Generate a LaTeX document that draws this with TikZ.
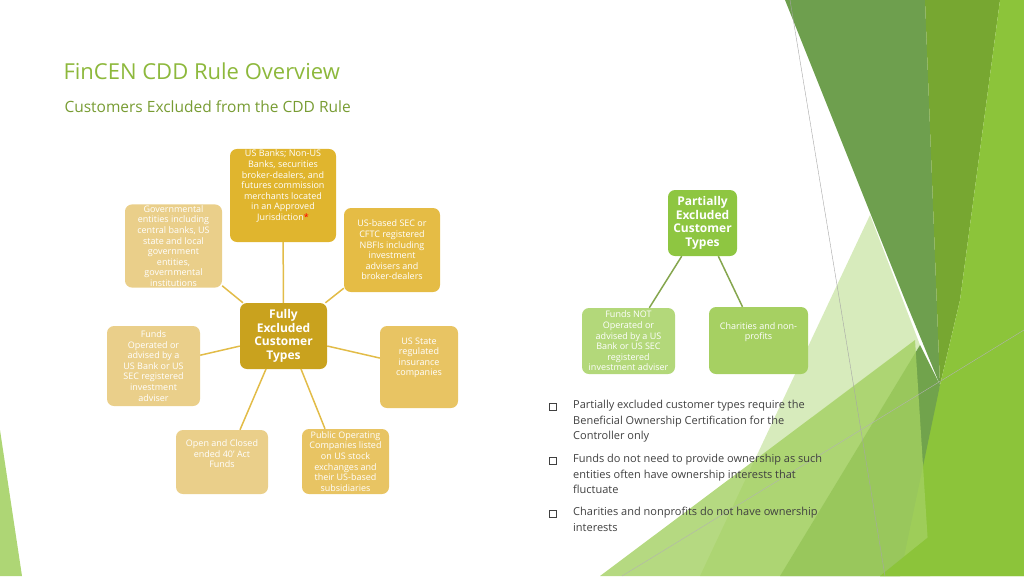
\documentclass[tikz,border=0pt]{standalone}
\usepackage{fontspec}
\setmainfont{Open Sans}
\definecolor{ttl}{HTML}{8DB83C}
\definecolor{gd}{HTML}{C9A21E}
\definecolor{g1}{HTML}{E0B52E}
\definecolor{g2}{HTML}{EACF8A}
\definecolor{g3}{HTML}{E5BC45}
\definecolor{g4}{HTML}{E8C463}
\definecolor{gl}{HTML}{E2BC48}
\definecolor{pg}{HTML}{8EC641}
\definecolor{pg2}{HTML}{B3D87A}
\definecolor{pg3}{HTML}{A6D062}
\definecolor{dg}{HTML}{6E9F4E}
\definecolor{bg}{HTML}{8CC43A}
\definecolor{txt}{HTML}{404040}
\begin{document}
\begin{tikzpicture}[x=1pt,y=-1pt,
 bx/.style={rounded corners=7pt,fill=#1,text=white,align=center,font=\fontsize{9}{10.6}\selectfont,inner sep=1pt},
 hub/.style={rounded corners=7pt,fill=#1,text=white,align=center,font=\bfseries\fontsize{12}{13.5}\selectfont},
 ln/.style={draw=gl,line width=1.5pt},
 pln/.style={draw=pg3!80!black,line width=1.5pt}]
\useasboundingbox (0,0) rectangle (1024,576);
% background decoration
\fill[bg!70!white] (0,430) -- (0,576) -- (22,576) -- cycle;
\fill[dg] (785,0) -- (925,0) -- (940,385) -- (905,300) -- cycle;
\fill[bg!85!black] (925,0) -- (1000,0) -- (960,300) -- (940,385) -- cycle;
\fill[bg] (1000,0) -- (1024,0) -- (1024,576) -- (880,576) -- (940,385) -- (960,300) -- cycle;
\fill[pg!35!white] (870,215) -- (920,345) -- (780,576) -- (700,576) -- cycle;
\fill[dg!90!bg] (920,345) -- (940,385) -- (900,576) -- (780,576) -- cycle;
\fill[bg!80!white,opacity=0.8] (600,576) -- (915,340) -- (930,576) -- cycle;
\fill[bg] (880,576) -- (1024,460) -- (1024,576) -- cycle;
\draw[gray!70,line width=0.4pt] (790,0) -- (885,576);
\draw[gray!60,line width=0.4pt] (622,576) -- (1024,330);
% titles
\node[anchor=west,text=ttl,font=\fontsize{22}{26}\selectfont] (title) at (60,71) {FinCEN CDD Rule Overview};
\node[anchor=west,text=ttl!85!black,font=\fontsize{15.5}{18}\selectfont] (sub) at (61,107) {Customers Excluded from the CDD Rule};
% fully excluded
\node[hub=gd,minimum width=87pt,minimum height=66pt] (c) at (283.5,336) {Fully\\Excluded\\Customer\\Types};
\node[bx=g1,minimum width=106pt,minimum height=91pt] (t) at (283,195.5) {US Banks; Non-US\\Banks, securities\\broker-dealers, and\\futures commission\\merchants located\\in an Approved\\Jurisdiction{\color{red}*}\\[10pt]};
\node[bx=g2,minimum width=97pt,minimum height=83pt] (gov) at (173.5,246) {Governmental\\entities including\\central banks, US\\state and local\\government\\entities,\\governmental\\institutions};
\node[bx=g3,minimum width=96pt,minimum height=84pt] (sec) at (392,250) {US-based SEC or\\CFTC registered\\NBFIs including\\investment\\advisers and\\broker-dealers};
\node[bx=g2,minimum width=93pt,minimum height=80pt] (fl) at (153.5,366) {Funds\\Operated or\\advised by a\\US Bank or US\\SEC registered\\investment\\adviser};
\node[bx=g4,minimum width=78pt,minimum height=82pt] (st) at (419,367) {US State\\regulated\\insurance\\companies\\[10pt]};
\node[bx=g2,minimum width=92pt,minimum height=64pt] (oc) at (222,462) {Open and Closed\\ended 40' Act\\Funds\\[6pt]};
\node[bx=g4,minimum width=87pt,minimum height=65pt] (pub) at (345.5,461.5) {Public Operating\\Companies listed\\on US stock\\exchanges and\\their US-based\\subsidiaries};
\coordinate (c1) at (266,369);
\coordinate (c2) at (301,369);
\draw[ln] (c) -- (t);
\draw[ln] (c) -- (gov);
\draw[ln] (c) -- (sec);
\draw[ln] (c) -- (fl);
\draw[ln] (c) -- (st);
\draw[ln] (c1) -- (oc.north -| 240,0);
\draw[ln] (c2) -- (pub.north -| 325,0);
% partially excluded
\node[hub=pg,minimum width=69pt,minimum height=66pt] (p) at (702.5,223) {Partially\\Excluded\\Customer\\Types};
\node[bx=pg2,minimum width=93pt,minimum height=66pt] (fn) at (628.5,341) {Funds NOT\\Operated or\\advised by a US\\Bank or US SEC\\registered\\investment adviser};
\node[bx=pg3,minimum width=99pt,minimum height=67pt] (ch) at (758.5,340.5) {Charities and non-\\profits\\[8pt]};
\draw[pln] (p) -- (fn);
\draw[pln] (p) -- (ch);
% bullets
\begin{scope}[font=\fontsize{11}{15.5}\selectfont,text=txt]
\node[anchor=north west,align=left,inner sep=0pt] (b1) at (573,400) {Partially excluded customer types require the\\Beneficial Ownership Certification for the\\Controller only};
\node[anchor=north west,align=left,inner sep=0pt] (b2) at (573,454) {Funds do not need to provide ownership as such\\entities often have ownership interests that\\fluctuate};
\node[anchor=north west,align=left,inner sep=0pt] (b3) at (573,507) {Charities and nonprofits do not have ownership\\interests};
\end{scope}
\foreach \y in {407,461,514} \draw[txt,line width=0.6pt] (549.5,\y-3.5) rectangle (556.5,\y+3.5);
\end{tikzpicture}
\end{document}
